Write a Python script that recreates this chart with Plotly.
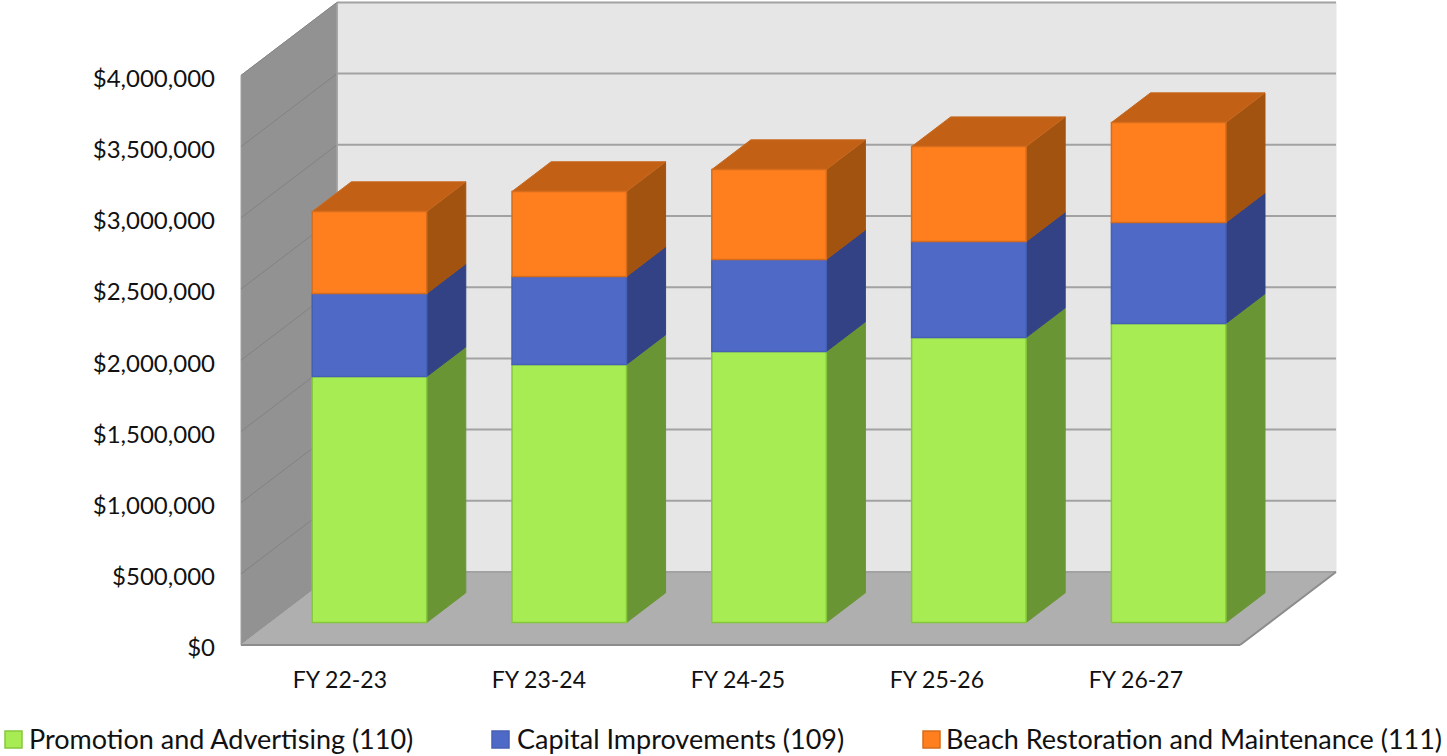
import plotly.graph_objects as go

# Budget data
categories = ["FY 22-23", "FY 23-24", "FY 24-25", "FY 25-26", "FY 26-27"]
promotion = [1727000, 1812000, 1903000, 2001000, 2100000]
capital = [583000, 618000, 646000, 674000, 709000]
beach = [576000, 597000, 632000, 667000, 702000]
tick_values = [0, 500000, 1000000, 1500000, 2000000, 2500000, 3000000, 3500000, 4000000]
names = ["Promotion and Advertising (110)", "Capital Improvements (109)",
         "Beach Restoration and Maintenance (111)"]

# Canvas and axis scale
W, H = 1447, 756
PX_PER_CAT = 199.8
PX_PER_USD = 142.4 / 1e6
CAT0_PX, ZERO_PY = 340.9, 645.0
LEFT, RIGHT, TOP, BOTTOM = 236, 1341, 0, 650
LABEL_STEP = 199 / PX_PER_CAT

# Oblique depth direction: one full depth unit moves this far along each axis
DEPTH_X = 96 / PX_PER_CAT
DEPTH_Y = 73 / PX_PER_USD
BAR_WIDTH = 114.5 / PX_PER_CAT
BAR_NUDGE = -1 / PX_PER_CAT
BAR_D0, BAR_D1 = 0.308, 0.715

FONT = "Lato"
TEXT = "#111111"


def project(cat, value, depth):
    return cat + depth * DEPTH_X, value + depth * DEPTH_Y


def face(corners, fill, edge, width=1.0):
    pts = [project(*c) for c in corners]
    pts.append(pts[0])
    return go.Scatter(x=[p[0] for p in pts], y=[p[1] for p in pts], mode="lines",
                      fill="toself", fillcolor=fill, line=dict(color=edge, width=width),
                      hoverinfo="skip", showlegend=False)


def segment(a, b, color, width):
    p, q = project(*a), project(*b)
    return go.Scatter(x=[p[0], q[0]], y=[p[1], q[1]], mode="lines",
                      line=dict(color=color, width=width), hoverinfo="skip", showlegend=False)


fig = go.Figure()
x_lo, x_hi = -0.5, len(categories) - 0.5
top_val = tick_values[-1]

# Chart box: back wall, side wall, floor and their rules
fig.add_trace(face([(x_lo, 0, 1), (x_hi, 0, 1), (x_hi, top_val, 1), (x_lo, top_val, 1)], "#e6e6e6", "#e6e6e6"))
fig.add_trace(face([(x_lo, 0, 0), (x_lo, 0, 1), (x_lo, top_val, 1), (x_lo, top_val, 0)], "#929292", "#a0a0a0"))
fig.add_trace(face([(x_lo, 0, 0), (x_hi, 0, 0), (x_hi, 0, 1), (x_lo, 0, 1)], "#afafaf", "#afafaf"))
for v in tick_values:
    fig.add_trace(segment((x_lo, v, 1), (x_hi, v, 1), "#a2a2a2", 2))
    if v:
        fig.add_trace(segment((x_lo, v, 0), (x_lo, v, 1), "#828282", 1))
fig.add_trace(segment((x_lo, 0, 0), (x_hi, 0, 0), "#8c8c8c", 2))
fig.add_trace(segment((x_hi, 0, 0), (x_hi, 0, 1), "#8c8c8c", 2))
fig.add_trace(segment((x_lo, 0, 1), (x_lo, top_val, 1), "#a0a0a0", 1.5))

series = [
    (promotion, "#a6ec52", "#86c83c", "#6a9535"),
    (capital, "#4f69c6", "#4560b4", "#324285"),
    (beach, "#ff7f1f", "#d56d1d", "#a35310"),
]

# Front faces sit on a second overlaid axis pair so they draw above the box
half = BAR_WIDTH / 2
cat_pos = [i + BAR_NUDGE for i in range(len(categories))]
cumulative = [0.0] * len(categories)
for (values, front, edge, side), name in zip(series, names):
    for c, base, v in zip(cat_pos, cumulative, values):
        fig.add_trace(face([(c + half, base, BAR_D0), (c + half, base, BAR_D1),
                            (c + half, base + v, BAR_D1), (c + half, base + v, BAR_D0)], side, side))
    fig.add_trace(go.Bar(
        x=[project(c, 0, BAR_D0)[0] for c in cat_pos],
        y=values,
        base=[project(0, b, BAR_D0)[1] for b in cumulative],
        width=BAR_WIDTH, name=name, marker=dict(color=front, line=dict(color=edge, width=1.5)),
        xaxis="x2", yaxis="y2", showlegend=False,
    ))
    cumulative = [b + v for b, v in zip(cumulative, values)]

# Roof of each stack
top_fill, top_edge = "#c26116", "#c8691f"
for c, total in zip(cat_pos, cumulative):
    fig.add_trace(face([(c - half, total, BAR_D0), (c + half, total, BAR_D0),
                        (c + half, total, BAR_D1), (c - half, total, BAR_D1)], top_fill, top_edge))

x_range = [(LEFT - CAT0_PX) / PX_PER_CAT, (RIGHT - CAT0_PX) / PX_PER_CAT]
y_range = [(ZERO_PY - BOTTOM) / PX_PER_USD, (ZERO_PY - TOP) / PX_PER_USD]
plot_w, plot_h = RIGHT - LEFT, BOTTOM - TOP


def px_x(px):
    return (px - LEFT) / plot_w


def px_y(py):
    return (BOTTOM - py) / plot_h


# Key along the bottom edge
key = [(5, 27, series[0]), (492, 515, series[1]), (923, 944, series[2])]
annotations, shapes = [], []
for (sw_left, text_left, style), name in zip(key, names):
    shapes.append(dict(type="rect", xref="paper", yref="paper",
                       x0=px_x(sw_left), x1=px_x(sw_left + 17), y0=px_y(748), y1=px_y(731),
                       fillcolor=style[1], line=dict(color=style[2], width=1.5)))
    annotations.append(dict(xref="paper", yref="paper", x=px_x(text_left), y=px_y(738),
                            text=name, showarrow=False, xanchor="left", yanchor="middle",
                            font=dict(family=FONT, size=27, color=TEXT)))

fig.update_layout(
    width=W, height=H, autosize=False,
    margin=dict(l=LEFT, r=W - RIGHT, t=TOP, b=H - BOTTOM, pad=0),
    paper_bgcolor="white", plot_bgcolor="rgba(0,0,0,0)", barmode="overlay", showlegend=False,
    annotations=annotations, shapes=shapes,
    xaxis=dict(range=x_range, tickmode="array", tickvals=[i * LABEL_STEP for i in range(len(categories))],
               ticktext=categories, showgrid=False, zeroline=False, showline=False, ticks="",
               ticklabelstandoff=14, ticklabelshift=-1,
               tickfont=dict(family=FONT, size=23, color=TEXT)),
    yaxis=dict(range=y_range, tickmode="array", tickvals=tick_values, tickformat="$,.0f",
               showgrid=False, zeroline=False, showline=False, ticks="",
               ticklabelstandoff=20, ticklabelshift=3,
               tickfont=dict(family=FONT, size=24, color=TEXT)),
    xaxis2=dict(overlaying="x", matches="x", visible=False),
    yaxis2=dict(overlaying="y", matches="y", visible=False),
)

fig.write_html("out.html")
